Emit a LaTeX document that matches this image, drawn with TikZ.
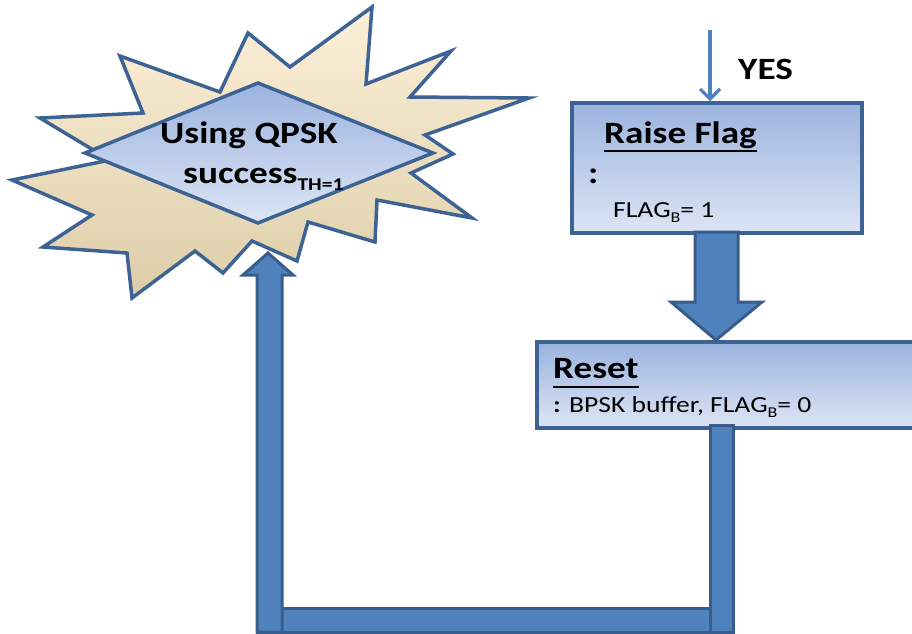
\documentclass[tikz,border=0pt]{standalone}
\usepackage{fontspec}
\setmainfont{Carlito}
\usetikzlibrary{arrows.meta}
\definecolor{edgeblue}{HTML}{3D6394}
\definecolor{blockfill}{HTML}{4F81BD}
\definecolor{blockedge}{HTML}{385D8A}
\definecolor{boxtop}{HTML}{9BB3DF}
\definecolor{boxbot}{HTML}{DDE5F4}
\definecolor{startop}{HTML}{FCF0D8}
\definecolor{starmid}{HTML}{F8EFDA}
\definecolor{starbot}{HTML}{DDCDA8}
\newcommand{\wide}[1]{\scalebox{1.2}[1]{#1}}
\tikzset{
  bigtxt/.style={font=\fontsize{31}{31}\selectfont\bfseries, inner sep=0pt, anchor=base west},
  smalltxt/.style={font=\fontsize{23}{23}\selectfont, inner sep=0pt, anchor=base west},
  flowbox/.style={draw=edgeblue, line width=3.5pt, top color=boxtop, bottom color=boxbot, inner sep=0pt},
  blockarrow/.style={draw=blockedge, fill=blockfill, line width=3pt, line join=miter},
  underl/.style={line width=2.2pt, black}
}
\begin{document}
\begin{tikzpicture}[x=1pt,y=-1pt]
\useasboundingbox (0,0) rectangle (912,633);
\clip (0,0) rectangle (912,633);
% starburst
\path[draw=edgeblue, line width=3.5pt, line join=miter, top color=startop, middle color=starmid, bottom color=starbot]
 (372,7) -- (366,84) -- (451,51) -- (410,97) -- (529,98) -- (425,135) -- (453,154)
 -- (411,173) -- (472,218) -- (377,200) -- (375,242) -- (308,222) -- (297,261)
 -- (252,241) -- (223,273) -- (195,251) -- (132,298) -- (127,253) -- (43,247)
 -- (92,215) -- (12,180) -- (110,160) -- (40,118) -- (143,113) -- (120,56)
 -- (220,92) -- (248,33) -- (290,67) -- cycle;
% diamond
\path[draw=edgeblue, line width=3.5pt, line join=miter, top color=boxtop, bottom color=boxbot]
 (258,83) -- (433,153) -- (258,223) -- (85,153) -- cycle;
\node[bigtxt] (using) at (160,143) {\wide{Using QPSK}};
\node[bigtxt] (success) at (183,183) {\wide{success\raisebox{-7pt}{\fontsize{18}{18}\selectfont TH=1}}};
% boxes
\node[flowbox, minimum width=290pt, minimum height=130pt] (raise) at (717,168) {};
\node[flowbox, minimum width=388pt, minimum height=86pt] (reset) at (731,385) {};
% texts in Raise Flag
\node[bigtxt] (raisetxt) at (604,143) {\wide{Raise Flag}};
\draw[underl] (raisetxt.base west) ++(0,8) coordinate (rul1) -- (rul1 -| raisetxt.east);
\node[bigtxt] (colon1) at (588,183) {\wide{:}};
\node[smalltxt] (flag1) at (613,217) {\wide{FLAG\raisebox{-5pt}{\fontsize{15}{15}\selectfont B}= 1}};
% texts in Reset
\node[bigtxt] (resettxt) at (553,378) {\wide{Reset}};
\draw[underl] (resettxt.base west) ++(0,9) coordinate (rul2) -- (rul2 -| resettxt.east);
\node[smalltxt] (resetline) at (553,412) {\wide{\textbf{:} BPSK buffer, FLAG\raisebox{-5pt}{\fontsize{15}{15}\selectfont B}= 0}};
% YES arrow
\coordinate (yesstart) at (710,30);
\draw[blockfill, line width=3.2pt, -{Straight Barb[length=10pt,width=20pt]}] (yesstart) -- (yesstart |- raise.north);
\node[bigtxt] (yes) at (738,79) {\wide{YES}};
% block arrow down
\path[blockarrow] (695,232) -- (738,232) -- (738,302) -- (762,302) -- (716,340)
 -- (671,302) -- (695,302) -- cycle;
% loop back
\path[blockarrow] (257,608) rectangle (733,632);
\path[blockarrow] (710,425) rectangle (733,632);
\path[blockarrow] (257,632) -- (257,275) -- (243,275) -- (268,253) -- (293,275)
 -- (282,275) -- (282,632) -- cycle;
\end{tikzpicture}
\end{document}
